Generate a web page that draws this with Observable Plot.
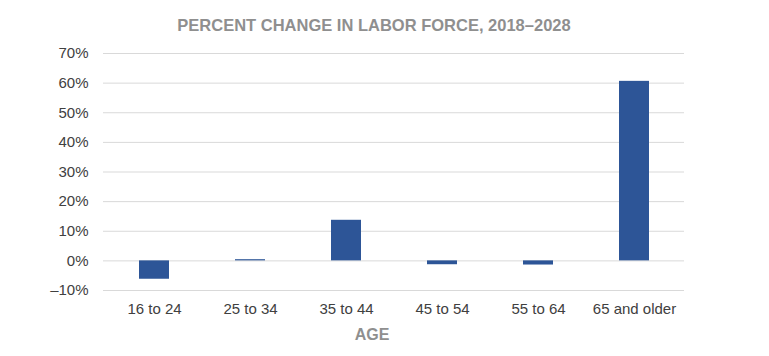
<!DOCTYPE html>
<html>
<head>
<meta charset="utf-8">
<script src="https://cdn.jsdelivr.net/npm/d3@7"></script>
<script src="https://cdn.jsdelivr.net/npm/@observablehq/plot@0.6"></script>
<style>
  html, body { margin: 0; padding: 0; background: #fff; }
  svg { display: block; }
</style>
</head>
<body>
<div id="chart"></div>
<script>
const title = "PERCENT CHANGE IN LABOR FORCE, 2018–2028";
const xLabel = "AGE";
const categories = ["16 to 24", "25 to 34", "35 to 44", "45 to 54", "55 to 64", "65 and older"];
const values = [-6.2, 0.4, 13.7, -1.3, -1.4, 60.6];
const yTicks = [-10, 0, 10, 20, 30, 40, 50, 60, 70];

const data = categories.map((c, i) => ({ age: c, change: values[i] }));

const chart = Plot.plot({
  width: 769,
  height: 356,
  marginLeft: 103,
  marginRight: 85,
  marginTop: 53,
  marginBottom: 66,
  style: { fontFamily: "'Liberation Sans', Arial, sans-serif", fontSize: "15px", color: "#404040", background: "#fff" },
  x: { domain: categories, paddingInner: 0.69, paddingOuter: 0.345, label: null },
  y: { domain: [-10, 70], label: null },
  marks: [
    Plot.gridY(yTicks, { stroke: "#d9d9d9", strokeOpacity: 1, strokeWidth: 1 }),
    Plot.barY(data, { x: "age", y: "change", fill: "#2d5597" }),
    Plot.axisY(yTicks, { tickSize: 0, tickPadding: 15, fontSize: 15, fill: "#404040",
      tickFormat: d => (d < 0 ? "\u2013" + Math.abs(d) : d) + "%" }),
    Plot.axisX({ tickSize: 0, tickPadding: 13, fontSize: 15, fill: "#404040", label: null }),
    Plot.text([xLabel], { frameAnchor: "bottom", dy: 49, dx: -22, fontSize: 16, fontWeight: "bold", fill: "#8f8f8f" }),
    Plot.text([title], { frameAnchor: "top", dy: -34, dx: -20, fontSize: 16.5, fontWeight: "bold", fill: "#8f8f8f" })
  ]
});
document.getElementById("chart").appendChild(chart);
</script>
</body>
</html>
